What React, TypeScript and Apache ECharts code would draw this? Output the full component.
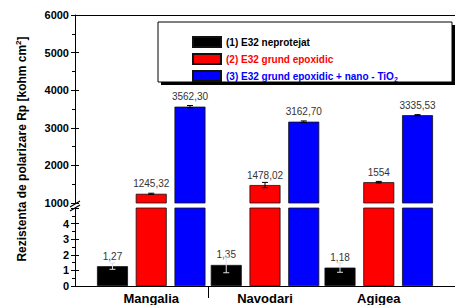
import React, { useEffect, useRef } from "react";
import * as echarts from "echarts";

const categories = ["Mangalia", "Navodari", "Agigea"];
const seriesNames = [
  "(1) E32 neprotejat",
  "(2) E32 grund epoxidic",
  "(3) E32 grund epoxidic + nano - TiO2",
];
const neprotejat = [1.27, 1.35, 1.18];
const grund = [1245.32, 1478.02, 1554];
const nano = [3562.3, 3162.7, 3335.53];
const errNeprotejat = [0.2, 0.5, 0.3];
const errGrund = [15, 70, 20];
const errNano = [30, 20, 15];
const labelsNeprotejat = ["1,27", "1,35", "1,18"];
const labelsGrund = ["1245,32", "1478,02", "1554"];
const labelsNano = ["3562,30", "3162,70", "3335,53"];
const colors = ["#000000", "#ff0000", "#0000ff"];

const FONT = "Arial, 'Liberation Sans', sans-serif";
const BAR_W = 31;
const GAP = 7.75;

export default function App() {
  const ref = useRef<HTMLDivElement>(null);
  useEffect(() => {
    if (!ref.current) return;
    const chart = echarts.init(ref.current, null, { renderer: "svg" });
    const values = [neprotejat, grund, nano];
    const errs = [errNeprotejat, errGrund, errNano];
    const labels = [labelsNeprotejat, labelsGrund, labelsNano];

    const barSeries = (grid: number, i: number, showVal: boolean, showLabel: boolean) => ({
      type: "bar",
      name: seriesNames[i],
      xAxisIndex: grid,
      yAxisIndex: grid,
      barWidth: BAR_W,
      barGap: "25%",
      clip: true,
      data: values[i].map((v, j) => [j + 1, showVal ? v : null]),
      itemStyle: { color: colors[i], borderColor: "#111", borderWidth: 0.8 },
      label: {
        show: showLabel,
        position: "top",
        distance: 5,
        fontSize: 10,
        color: "#333",
        fontFamily: FONT,
        formatter: (p: any) => labels[i][p.dataIndex],
      },
    });

    const errSeries = (grid: number, i: number, color: string) => ({
      type: "custom",
      xAxisIndex: grid,
      yAxisIndex: grid,
      silent: true,
      z: 3,
      data: values[i].map((v, j) => [j + 1, v, errs[i][j]]),
      renderItem: (params: any, api: any) => {
        const x = api.value(0);
        const y = api.value(1);
        const e = api.value(2);
        const off = (i - 1) * (BAR_W + GAP);
        const top = api.coord([x, y + e]);
        const bot = api.coord([x, y - e]);
        const cx = top[0] + off;
        const cap = 3;
        const st = { stroke: color, lineWidth: 1 };
        return {
          type: "group",
          children: [
            { type: "line", shape: { x1: cx, y1: top[1], x2: cx, y2: bot[1] }, style: st },
            { type: "line", shape: { x1: cx - cap, y1: top[1], x2: cx + cap, y2: top[1] }, style: st },
            { type: "line", shape: { x1: cx - cap, y1: bot[1], x2: cx + cap, y2: bot[1] }, style: st },
          ],
        };
      },
    });

    const yCommon = {
      type: "value",
      axisLine: { show: true, onZero: false, lineStyle: { color: "#000", width: 1 } },
      axisTick: { show: true, length: 4, lineStyle: { color: "#000" } },
      minorTick: { show: true, splitNumber: 2, length: 3, lineStyle: { color: "#000" } },
      axisLabel: {
        fontWeight: "bold",
        fontSize: 11,
        color: "#000",
        fontFamily: FONT,
        margin: 6,
        formatter: (v: number) => String(v),
      },
      splitLine: { show: false },
    };
    const yInner = {
      type: "value",
      position: "left",
      axisLine: { show: false },
      axisTick: { show: true, inside: true, length: 4, lineStyle: { color: "#000" } },
      axisLabel: { show: false },
      splitLine: { show: false },
    };

    chart.setOption({
      animation: false,
      backgroundColor: "#fff",
      grid: [
        { left: 75, top: 15, width: 384, height: 188 },
        { left: 75, top: 208, width: 384, height: 80 },
      ],
      xAxis: [
        {
          gridIndex: 0,
          type: "value",
          min: 0.33,
          max: 3.67,
          position: "top",
          axisLine: { show: true, onZero: false, lineStyle: { color: "#000" } },
          axisTick: { show: false },
          axisLabel: { show: false },
          splitLine: { show: false },
        },
        {
          gridIndex: 1,
          type: "value",
          min: 0.33,
          max: 3.67,
          position: "bottom",
          axisLine: { show: true, onZero: false, lineStyle: { color: "#000" } },
          axisTick: { show: true, customValues: [1.5], length: 12, lineStyle: { color: "#000" } },
          axisLabel: {
            customValues: [1, 2, 3],
            formatter: (v: number) => categories[Math.round(v) - 1] ?? "",
            fontWeight: "bold",
            fontSize: 13,
            color: "#000",
            fontFamily: FONT,
            margin: 6,
          },
          splitLine: { show: false },
        },
      ],
      yAxis: [
        { ...yCommon, gridIndex: 0, min: 1000, max: 6000, interval: 1000 },
        {
          ...yCommon,
          gridIndex: 1,
          min: 0,
          max: 5,
          interval: 1,
          axisLabel: { ...yCommon.axisLabel, formatter: (v: number) => (v === 5 ? "" : String(v)) },
        },
        { ...yInner, gridIndex: 0, min: 1000, max: 6000, interval: 1000 },
        { ...yInner, gridIndex: 1, min: 0, max: 5, interval: 1 },
      ],
      legend: {
        orient: "vertical",
        left: 187,
        top: 31,
        itemWidth: 28,
        itemHeight: 10,
        itemGap: 5,
        icon: "rect",
        selectedMode: false,
        data: [
          { name: seriesNames[0], textStyle: { color: colors[0] } },
          { name: seriesNames[1], textStyle: { color: colors[1] } },
          { name: seriesNames[2], textStyle: { color: colors[2] } },
        ],
        formatter: (name: string) =>
          name === seriesNames[2] ? "{n|(3) E32 grund epoxidic + nano - TiO}{s|2}" : name,
        textStyle: {
          fontSize: 10,
          fontWeight: "bold",
          fontFamily: FONT,
          rich: {
            n: { color: colors[2], fontSize: 10, fontWeight: "bold", fontFamily: FONT },
            s: { color: colors[2], fontSize: 7, fontWeight: "bold", fontFamily: FONT, padding: [6, 0, 0, 0] },
          },
        },
      },
      graphic: [
        { type: "rect", shape: { x: 161, y: 25, width: 294, height: 60 }, style: { fill: "#000" } },
        {
          type: "rect",
          shape: { x: 158, y: 22, width: 294, height: 60 },
          style: { fill: "#fff", stroke: "#000", lineWidth: 1 },
        },
        {
          type: "text",
          x: 22,
          y: 149,
          rotation: Math.PI / 2,
          style: {
            text: "{a|Rezistenta de polarizare Rp [kohm cm}{s|2}{a|]}",
            align: "center",
            verticalAlign: "middle",
            rich: {
              a: { fontSize: 12, fontWeight: "bold", fill: "#000", fontFamily: FONT },
              s: { fontSize: 8, fontWeight: "bold", fill: "#000", fontFamily: FONT, padding: [0, 0, 7, 0] },
            },
          },
        },
        { type: "line", shape: { x1: 70, y1: 207, x2: 80, y2: 201 }, style: { stroke: "#000", lineWidth: 1.2 } },
        { type: "line", shape: { x1: 70, y1: 211, x2: 80, y2: 205 }, style: { stroke: "#000", lineWidth: 1.2 } },
      ],
      series: [
        barSeries(0, 0, false, false),
        barSeries(0, 1, true, true),
        barSeries(0, 2, true, true),
        barSeries(1, 0, true, true),
        barSeries(1, 1, true, false),
        barSeries(1, 2, true, false),
        errSeries(0, 1, "#000"),
        errSeries(0, 2, "#000"),
        errSeries(1, 0, "#e0e0e0"),
      ],
    });
    return () => chart.dispose();
  }, []);
  return (
    <div
      ref={ref}
      style={{ position: "fixed", left: 0, top: 0, width: 455, height: 305, background: "#fff" }}
    />
  );
}
